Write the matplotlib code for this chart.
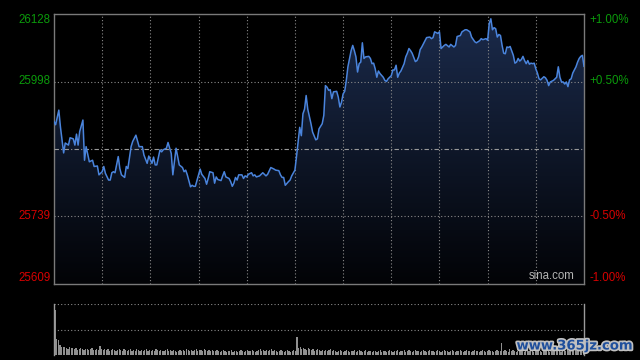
import numpy as np
import matplotlib
matplotlib.use('Agg')
import matplotlib.pyplot as plt
import matplotlib.patheffects as pe

plt.rcParams['font.family'] = ['Liberation Sans', 'DejaVu Sans']

# intraday index: minutes since open (9:30, lunch gap removed), price
prev_close = 25868.5
minutes = [
    0, 1, 3, 4, 5, 6, 7, 9, 10, 12, 13, 14, 15, 16, 18, 19, 20, 22, 24, 25,
    27, 28, 30, 31, 32, 34, 35, 36, 37, 38, 40, 41, 42, 44, 45, 46, 48, 49, 51, 53,
    55, 56, 58, 59, 61, 62, 63, 64, 66, 67, 68, 70, 71, 73, 74, 76, 78, 80, 81, 82,
    83, 85, 86, 87, 88, 90, 91, 92, 94, 95, 96, 97, 99, 100, 101, 102, 104, 105, 106, 107,
    109, 110, 111, 112, 113, 114, 115, 117, 118, 119, 120, 121, 123, 124, 125, 126, 128, 129, 130, 131,
    132, 133, 135, 137, 138, 140, 141, 142, 143, 144, 146, 147, 148, 150, 151, 152, 153, 154, 155, 156,
    157, 158, 160, 161, 163, 164, 165, 167, 168, 169, 170, 171, 172, 173, 174, 176, 177, 178, 179, 180,
    181, 182, 183, 184, 185, 186, 187, 188, 189, 190, 191, 192, 193, 194, 196, 197, 198, 199, 200, 201,
    202, 203, 205, 206, 207, 208, 210, 211, 212, 213, 214, 215, 216, 218, 219, 220, 221, 222, 223, 225,
    226, 227, 228, 229, 231, 232, 234, 235, 236, 237, 239, 240, 241, 243, 244, 246, 247, 249, 250, 251,
    253, 254, 256, 257, 259, 260, 262, 263, 265, 266, 267, 269, 270, 271, 272, 273, 274, 275, 276, 277,
    278, 279, 280, 281, 282, 283, 284, 286, 287, 288, 289, 290, 291, 292, 293, 294, 295, 296, 297, 298,
    299, 300, 301, 302, 303, 305, 306, 307, 308, 309, 311, 312, 313, 314, 315, 316, 317, 318, 319, 320,
    321, 322, 323, 325, 326, 327, 328, 329, 330,
]
prices = [
    25921, 25915, 25943, 25911, 25886, 25861, 25880, 25876, 25890, 25888, 25876, 25897, 25876, 25902, 25924, 25847, 25873, 25844, 25847, 25835,
    25836, 25819, 25825, 25835, 25822, 25809, 25809, 25823, 25825, 25823, 25854, 25831, 25819, 25814, 25835, 25831, 25873, 25883, 25895, 25873,
    25873, 25857, 25841, 25855, 25841, 25853, 25838, 25838, 25867, 25863, 25867, 25870, 25881, 25860, 25819, 25870, 25838, 25833, 25825, 25828,
    25819, 25796, 25799, 25797, 25797, 25819, 25830, 25820, 25812, 25801, 25812, 25825, 25823, 25803, 25815, 25810, 25808, 25817, 25825, 25815,
    25812, 25806, 25797, 25803, 25814, 25809, 25819, 25819, 25812, 25817, 25815, 25820, 25823, 25817, 25819, 25815, 25817, 25820, 25823, 25820,
    25817, 25820, 25833, 25830, 25828, 25827, 25819, 25814, 25814, 25799, 25806, 25809, 25817, 25828, 25854, 25882, 25910, 25894, 25936, 25945,
    25971, 25945, 25917, 25901, 25886, 25888, 25907, 25917, 25933, 25990, 25987, 25981, 25982, 25965, 25978, 25979, 25968, 25949, 25958, 25974,
    25979, 26000, 26026, 26042, 26057, 26067, 26057, 26045, 26016, 26032, 26035, 26072, 26042, 26045, 26046, 26042, 26032, 26033, 26022, 26006,
    26018, 26013, 26006, 26000, 25998, 26003, 26009, 26020, 26020, 26029, 26006, 26014, 26018, 26032, 26045, 26052, 26061, 26057, 26052, 26036,
    26038, 26045, 26059, 26064, 26076, 26082, 26083, 26080, 26082, 26093, 26090, 26093, 26061, 26067, 26069, 26064, 26069, 26064, 26067, 26084,
    26086, 26093, 26097, 26097, 26093, 26083, 26074, 26072, 26076, 26080, 26078, 26080, 26077, 26109, 26118, 26097, 26101, 26099, 26083, 26088,
    26086, 26067, 26052, 26051, 26064, 26063, 26065, 26048, 26033, 26035, 26042, 26037, 26040, 26046, 26038, 26032, 26038, 26031, 26033, 26032,
    26033, 26022, 26014, 26003, 26001, 26007, 26005, 26000, 25990, 25997, 26000, 26003, 26006, 26026, 26006, 25997, 25997, 25993, 25997, 25988,
    26001, 26003, 26014, 26026, 26035, 26042, 26046, 26048, 26027,
]

# per-minute volume (relative units)
volume = [
    45, 16, 15, 10, 8, 8, 8, 7, 6, 8, 7, 7, 6, 7, 5, 6, 7, 6, 5, 6,
    6, 5, 6, 7, 5, 5, 6, 5, 9, 6, 5, 6, 5, 6, 4, 5, 6, 5, 4, 5,
    6, 5, 4, 6, 5, 4, 5, 6, 4, 5, 4, 6, 5, 4, 5, 4, 5, 6, 4, 5,
    4, 5, 4, 6, 5, 4, 5, 4, 4, 5, 6, 4, 5, 4, 5, 4, 3, 4, 5, 4,
    5, 4, 6, 5, 4, 5, 4, 5, 6, 4, 5, 5, 4, 6, 5, 4, 5, 4, 5, 4,
    4, 5, 4, 3, 4, 5, 4, 3, 4, 4, 5, 3, 4, 4, 3, 4, 5, 4, 3, 4,
    5, 4, 4, 5, 4, 3, 4, 5, 6, 4, 5, 4, 5, 4, 5, 6, 4, 5, 4, 3,
    4, 5, 4, 3, 4, 5, 4, 3, 4, 5, 4, 18, 7, 8, 6, 7, 6, 5, 7, 6,
    5, 6, 4, 5, 6, 5, 4, 5, 4, 5, 4, 5, 6, 4, 5, 4, 3, 4, 5, 4,
    3, 4, 5, 4, 3, 4, 4, 5, 3, 4, 5, 4, 3, 4, 5, 3, 4, 4, 3, 4,
    4, 3, 4, 5, 3, 4, 4, 3, 4, 5, 4, 3, 4, 4, 5, 3, 4, 4, 5, 3,
    4, 5, 4, 3, 4, 5, 4, 4, 3, 4, 5, 4, 3, 4, 5, 4, 4, 3, 4, 5,
    4, 3, 4, 5, 4, 4, 3, 4, 5, 4, 3, 4, 4, 5, 4, 3, 4, 5, 4, 4,
    3, 4, 5, 4, 4, 3, 4, 5, 4, 3, 4, 5, 4, 4, 3, 4, 5, 4, 4, 12,
    4, 5, 4, 3, 6, 4, 5, 4, 3, 4, 5, 4, 4, 3, 4, 5, 4, 6, 4, 3,
    4, 5, 4, 4, 3, 4, 5, 4, 5, 3, 4, 5, 4, 4, 5, 4, 3, 4, 5, 4,
    5, 4, 5, 4, 4, 5, 4, 5, 4, 6, 5,
]

left_labels = ['26128', '25998', '25739', '25609']
right_labels = ['+1.00%', '+0.50%', '-0.50%', '-1.00%']
pct_levels = [0.01, 0.005, -0.005, -0.01]

BG = '#000000'
GRID = '#8a8a8a'
SPINE = '#7a7a7a'
LINE = '#4a84dc'
UP = '#0b9a0b'
DOWN = '#d80000'

fig = plt.figure(figsize=(6.4, 3.6), dpi=100, facecolor=BG)
ax = fig.add_axes([54 / 640, 1 - 284 / 360, 530 / 640, 270 / 360], facecolor=BG)
vax = fig.add_axes([54 / 640, 1 - 355 / 360, 530 / 640, 51 / 360], facecolor=BG)

lo, hi = prev_close * 0.99, prev_close * 1.01
ax.set_xlim(0, 330)
ax.set_ylim(lo, hi)

# gradient fill under the price line
grad = np.linspace(1, 0, 256).reshape(-1, 1)
top_c = np.array([0x1b, 0x2b, 0x4c]) / 255
bot_c = np.array([0x02, 0x03, 0x06]) / 255
img = grad[..., None] * top_c + (1 - grad[..., None]) * bot_c
im = ax.imshow(img, extent=[0, 330, lo, hi], aspect='auto', origin='upper', zorder=1)
poly = ax.fill_between(minutes, prices, lo, facecolor='none', edgecolor='none')
clip = poly.get_paths()[0]
im.set_clip_path(clip, transform=ax.transData)

ax.plot(minutes, prices, color=LINE, lw=1.1, zorder=4)

# grid
for t in range(30, 330, 30):
    ax.axvline(t, color=GRID, lw=0.8, ls=(0, (1, 2)), zorder=3)
for p in (0.005, -0.005):
    ax.axhline(prev_close * (1 + p), color=GRID, lw=0.8, ls=(0, (1, 2)), zorder=3)
ax.axhline(prev_close, color='#9a9a9a', lw=0.8, ls=(0, (4, 2, 1, 2)), zorder=3)

ax.set_xticks([]); ax.set_yticks([])
for sp in ax.spines.values():
    sp.set_color(SPINE); sp.set_linewidth(1.0)

tr = ax.get_yaxis_transform()
for lab, rlab, p in zip(left_labels, right_labels, pct_levels):
    y = prev_close * (1 + p)
    va = 'top' if p == 0.01 else ('bottom' if p == -0.01 else 'center')
    c = UP if p > 0 else DOWN
    ax.text(-0.006, y, lab, transform=tr, ha='right', va=va, color=c, fontsize=8.3)
    ax.text(1.011, y, rlab, transform=tr, ha='left', va=va, color=c, fontsize=8.3)

ax.text(0.983, 0.008, 'sina.com', transform=ax.transAxes, ha='right', va='bottom',
        color='#b4b4b4', fontsize=8.3)

# volume panel
vmin_idx = np.arange(len(volume))
vax.bar(vmin_idx, volume, width=0.75, color='#909090', linewidth=0, zorder=3)
vax.set_xlim(-0.8, 330.4)
vax.set_ylim(0, 51)
vax.axhline(51, color=GRID, lw=0.8, ls=(0, (1, 2)))
vax.axhline(25.5, color=GRID, lw=0.8, ls=(0, (1, 2)))
vax.set_xticks([]); vax.set_yticks([])
for k in ('top', 'bottom'):
    vax.spines[k].set_visible(False)
for k in ('left', 'right'):
    vax.spines[k].set_color('#9a9a9a'); vax.spines[k].set_linewidth(1.0)

fig.text(575 / 640, 1 - 346 / 360, 'www.365jz.com', ha='center', va='center',
         color='#1f4f9c', fontsize=9.5, fontweight='bold', family='DejaVu Sans',
         path_effects=[pe.withStroke(linewidth=2.5, foreground='#c0c0c0')])

fig.savefig('out.png', dpi=100, facecolor=BG)
